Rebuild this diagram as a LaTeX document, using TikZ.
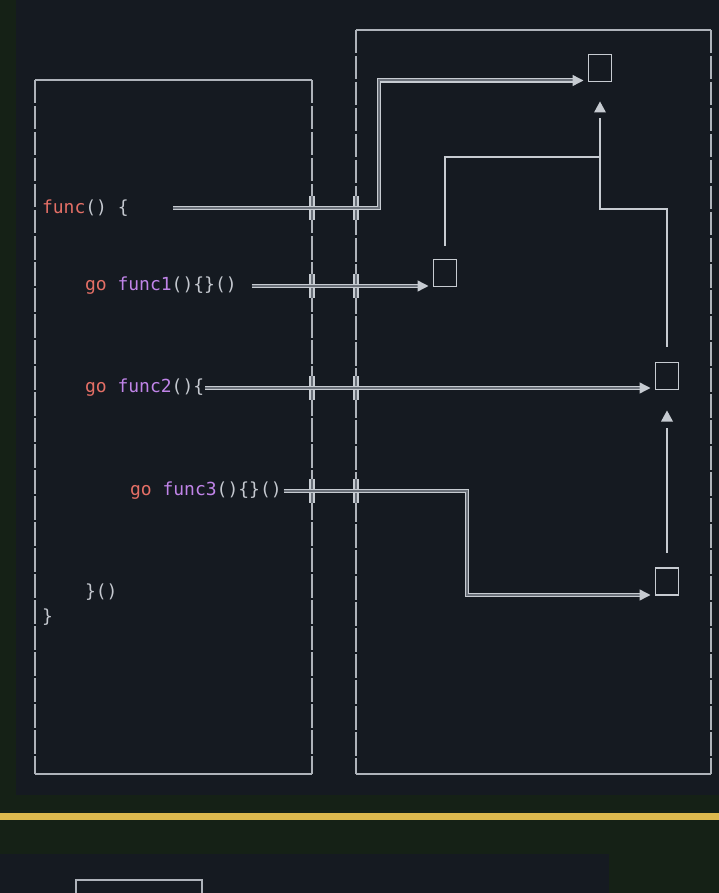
\documentclass[tikz,border=0pt]{standalone}
\usepackage{fontspec}
\newfontfamily\codefont{DejaVu Sans Mono}
\usetikzlibrary{arrows.meta,calc}
\definecolor{outerbg}{HTML}{152116}
\definecolor{panelbg}{HTML}{151A21}
\definecolor{stripe}{HTML}{DDB94E}
\definecolor{linecol}{HTML}{C6CBD1}
\definecolor{framecol}{HTML}{AEB3BA}
\definecolor{dblcore}{HTML}{6A7079}
\definecolor{kw}{HTML}{E46F66}
\definecolor{fn}{HTML}{C084E8}
\definecolor{txt}{HTML}{C4C8CF}
\begin{document}
\begin{tikzpicture}[x=1pt,y=-1pt,
  area/.style={rectangle,draw=none,inner sep=0pt,outer sep=0pt},
  frame/.style={draw=framecol,line width=1.9pt},
  seg/.style={dash pattern=on 23.5pt off 2.5pt},
  code/.style={inner sep=0pt,outer sep=0pt,anchor=west,text=txt,font=\codefont\fontsize{18}{22}\selectfont},
  sq/.style={rectangle,draw=linecol,line width=1.9pt,minimum width=23pt,minimum height=27pt,inner sep=0pt,outer sep=0pt},
  dbl/.style={draw=linecol,line width=1.4pt,double=dblcore,double distance=2pt},
  crossmark/.style={draw=linecol,line width=2pt,double=dblcore,double distance=1.8pt},
  arr/.style={-{Triangle[length=11pt,width=11pt]}},
  sline/.style={draw=linecol,line width=2.8pt}]
\useasboundingbox (0,0) rectangle (719,893);
% backgrounds
\fill[outerbg] (0,0) rectangle (719,893);
\fill[panelbg] (16,0) rectangle (719,795);
\fill[stripe] (0,813) rectangle (719,820);
\fill[panelbg] (0,854) rectangle (609,893);
\draw[frame] (76,893) -- (76,880) -- (202,880) -- (202,893);
% panels
\node[area,minimum width=277pt,minimum height=694pt] (L) at (173.5,427) {};
\node[area,minimum width=355pt,minimum height=744pt] (R) at (533.5,402) {};
\draw[frame] (L.north west) -- (L.north east);
\draw[frame] (L.south west) -- (L.south east);
\draw[frame,seg] (L.north west) -- (L.south west);
\draw[frame,seg] (L.north east) -- (L.south east);
\draw[frame] (R.north west) -- (R.north east);
\draw[frame] (R.south west) -- (R.south east);
\draw[frame,seg] (R.north west) -- (R.south west);
\draw[frame,seg] (R.north east) -- (R.south east);
% code
\node[code] (t0) at (42,208) {\textcolor{kw}{func}() \{};
\node[code] (t1) at (85,286) {\textcolor{kw}{go} \textcolor{fn}{func1}()\{\}()};
\node[code] (t2) at (85,388) {\textcolor{kw}{go} \textcolor{fn}{func2}()\{};
\node[code] (t3) at (130,491) {\textcolor{kw}{go} \textcolor{fn}{func3}()\{\}()};
\node[code] (t4) at (85,592) {\}()};
\node[code] (t5) at (42,617) {\}};
% goroutine boxes
\node[sq] (b1) at (600,68) {};
\node[sq] (b2) at (445,273) {};
\node[sq] (b3) at (667,376) {};
\node[sq] (b4) at (667,581.5) {};
% connector starts
\coordinate (s0) at (173,208);
\coordinate (s1) at ([xshift=15pt]t1.east);
\coordinate (s2) at ([xshift=1pt]t2.east);
\coordinate (s3) at ([xshift=2pt]t3.east);
% crossing marks
\foreach \c in {s0,s1,s2,s3}{
  \draw[crossmark] ($(L.east |- \c)+(0,-12)$) -- ($(L.east |- \c)+(0,12)$);
  \draw[crossmark] ($(R.west |- \c)+(0,-12)$) -- ($(R.west |- \c)+(0,12)$);
}
% double connectors
\draw[dbl,arr] (s0) -- (379,208) |- ([xshift=-5pt,yshift=1pt]b1.south west);
\draw[dbl,arr] (s1) -- ([xshift=-5pt]s1 -| b2.west);
\draw[dbl,arr] (s2) -- ([xshift=-5pt]s2 -| b3.west);
\draw[dbl,arr] (s3) -- (467,491) |- ([xshift=-5pt]b4.south west);
% single connectors
\draw[sline] ([yshift=14pt]b2.north) |- (600,157);
\draw[sline] ([yshift=16pt]b3.north) -- (667,209) -| ([yshift=-37pt]b1.south);
\fill[linecol] ([yshift=-20pt]b1.south) -- ++(-6,11) -- ++(12,0) -- cycle;
\draw[sline] ([yshift=15pt]b4.north) -- ([yshift=-38pt]b3.south);
\fill[linecol] ([yshift=-21pt]b3.south) -- ++(-6,11) -- ++(12,0) -- cycle;
\end{tikzpicture}
\end{document}
